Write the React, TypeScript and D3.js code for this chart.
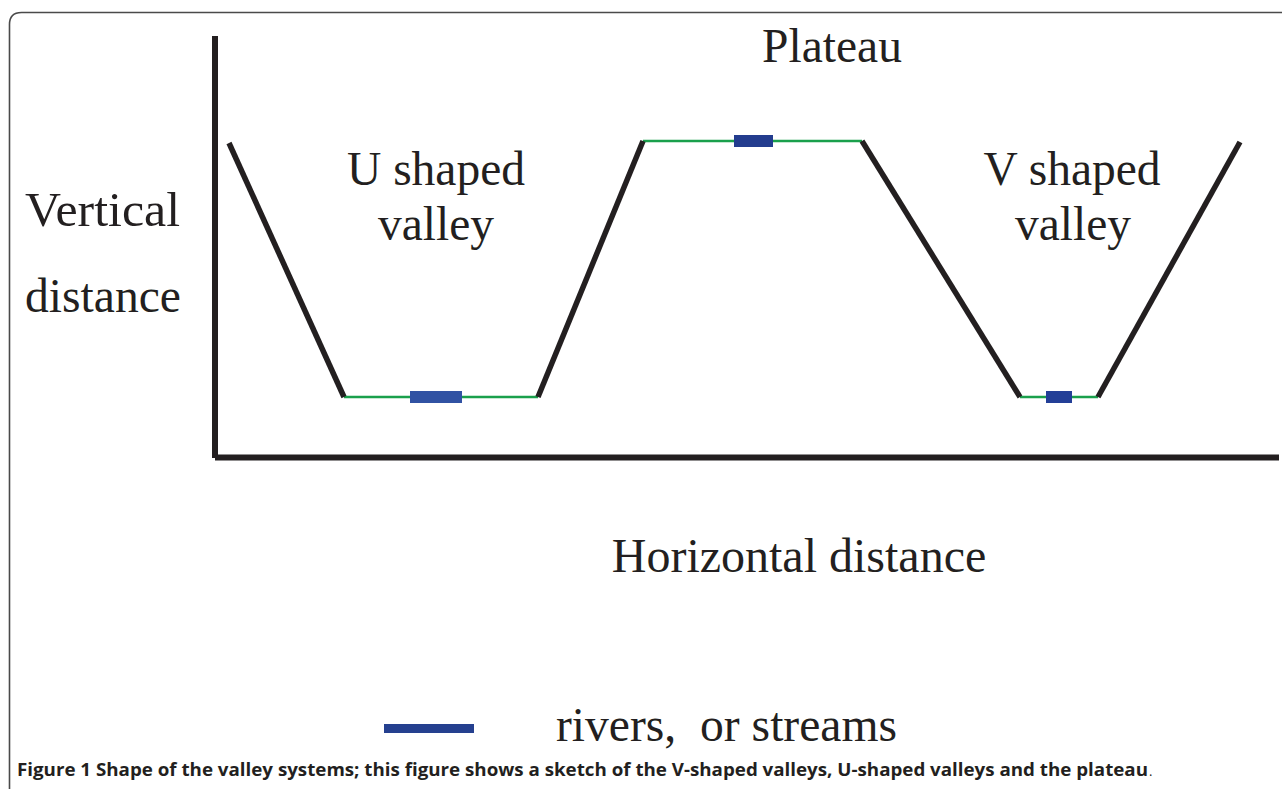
import React from "react";
import * as d3 from "d3";

// Profile of the landscape (horizontal distance, vertical distance)
const profileX = [14, 129, 323, 428, 647, 805, 883, 1025];
const profileY = [314, 60, 60, 316, 316, 60, 60, 315];
// segment kinds between consecutive profile points
const segmentKinds = ["slope", "floor", "slope", "plateau", "slope", "floor", "slope"];
// rivers: start, end, level
const riverStart = [195, 519, 831];
const riverEnd = [247, 558, 857];
const riverLevel = [60, 316, 60];
const riverColors = ["#3152a3", "#233c8e", "#233f97"];

const xDomain = [0, 1064];
const yDomain = [0, 421];

export default function App() {
  const W = 1282;
  const H = 789;
  const x = d3.scaleLinear().domain(xDomain).range([215, 1279]);
  const y = d3.scaleLinear().domain(yDomain).range([457, 36]);
  const line = d3.line<[number, number]>().x((d) => x(d[0])).y((d) => y(d[1]));

  const serif = "'Liberation Serif', 'Times New Roman', serif";
  const ink = "#231f20";

  const segs = segmentKinds.map((k, i) => ({
    kind: k,
    pts: [
      [profileX[i], profileY[i]],
      [profileX[i + 1], profileY[i + 1]],
    ] as [number, number][],
  }));

  const r = 12;
  const border = `M ${W + 5} 12.5 L ${9.5 + r} 12.5 Q 9.5 12.5 9.5 ${12.5 + r} L 9.5 ${H + 5}`;

  return (
    <svg
      width={W}
      height={H}
      style={{ position: "absolute", left: 0, top: 0, display: "block", background: "#fff" }}
    >
      <path d={border} fill="none" stroke="#4a4a4a" strokeWidth={1.6} />

      {/* axes */}
      <line x1={x(0)} x2={x(0)} y1={y(yDomain[1])} y2={y(0) + 1} stroke={ink} strokeWidth={6} />
      <line x1={x(0)} x2={x(xDomain[1])} y1={y(0) + 0.5} y2={y(0) + 0.5} stroke={ink} strokeWidth={6} />

      {/* green floors and plateau */}
      {segs
        .filter((s) => s.kind !== "slope")
        .map((s, i) => (
          <path key={"g" + i} d={line(s.pts) || ""} stroke="#1aa04c" strokeWidth={2.6} fill="none" />
        ))}
      {/* slopes */}
      {segs
        .filter((s) => s.kind === "slope")
        .map((s, i) => (
          <path key={"s" + i} d={line(s.pts) || ""} stroke={ink} strokeWidth={5.5} fill="none" />
        ))}
      {/* rivers */}
      {riverStart.map((s, i) => (
        <rect
          key={"r" + i}
          x={x(s)}
          width={x(riverEnd[i]) - x(s)}
          y={y(riverLevel[i]) - 6}
          height={12}
          fill={riverColors[i]}
        />
      ))}

      {/* labels */}
      <g fill={ink} fontFamily={serif} fontSize={47.5}>
        <text x={832} y={62} textAnchor="middle">Plateau</text>
        <text x={436} y={185} textAnchor="middle">U shaped</text>
        <text x={436} y={240} textAnchor="middle">valley</text>
        <text x={1072} y={185} textAnchor="middle">V shaped</text>
        <text x={1073} y={240} textAnchor="middle">valley</text>
        <text x={25} y={226} textLength={155} lengthAdjust="spacingAndGlyphs">Vertical</text>
        <text x={25} y={312} textLength={156} lengthAdjust="spacingAndGlyphs">distance</text>
        <text x={799} y={572} textAnchor="middle" fontSize={48}>Horizontal distance</text>
        <text x={556} y={741} style={{ whiteSpace: "pre" }} textLength={341} lengthAdjust="spacingAndGlyphs">{"rivers,  or streams"}</text>
      </g>
      <line x1={384} x2={474} y1={728.5} y2={728.5} stroke="#25408f" strokeWidth={9} />

      {/* caption */}
      <text
        x={17}
        y={776}
        fontFamily="'Open Sans', 'Noto Sans', sans-serif"
        fontSize={17.5}
        fontWeight={700}
        fill={ink}
        textLength={1131}
        lengthAdjust="spacingAndGlyphs"
      >
        {"Figure 1 Shape of the valley systems; this figure shows a sketch of the V-shaped valleys, U-shaped valleys and the plateau"}
      </text>
      <text x={1149} y={776} fontFamily="'Open Sans', 'Noto Sans', sans-serif" fontSize={13} fill={ink}>.</text>
    </svg>
  );
}
